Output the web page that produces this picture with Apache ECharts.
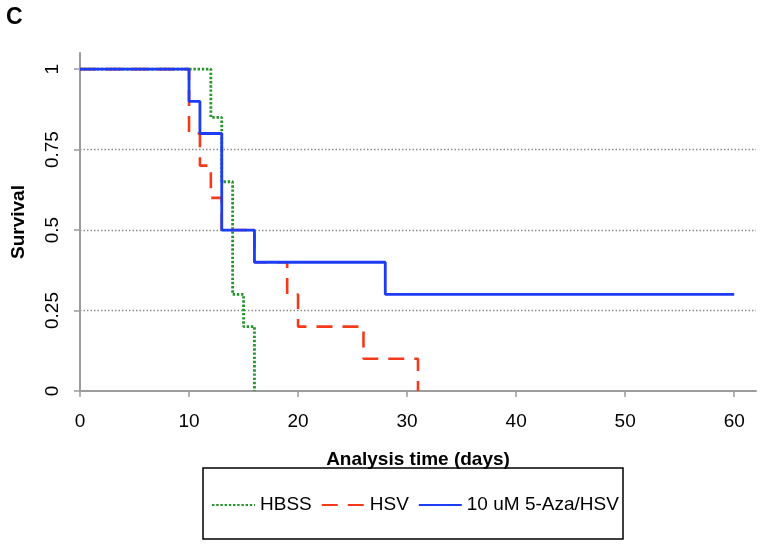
<!DOCTYPE html>
<html>
<head>
<meta charset="utf-8">
<script src="https://cdn.jsdelivr.net/npm/echarts@6/dist/echarts.min.js"></script>
<style>
  html, body { margin: 0; padding: 0; background: #fff; }
  #chart { width: 764px; height: 547px; }
</style>
</head>
<body>
<div id="chart"></div>
<script>
// ---- Data (Kaplan-Meier step points: [time, survival]) ----
const seriesNames = ['HBSS', 'HSV', '10 uM 5-Aza/HSV'];
const hbssTimes = [0, 12, 13, 14, 15, 16];
const hbssSurvival = [1, 0.85, 0.65, 0.3, 0.2, 0];
const hsvTimes = [0, 10, 11, 12, 13, 16, 19, 20, 26, 31];
const hsvSurvival = [1, 0.8, 0.7, 0.6, 0.5, 0.4, 0.3, 0.2, 0.1, 0];
const azaTimes = [0, 10, 11, 13, 16, 28, 60];
const azaSurvival = [1, 0.9, 0.8, 0.5, 0.4, 0.3, 0.3];
const xTicks = [0, 10, 20, 30, 40, 50, 60];
const yTicks = [0, 0.25, 0.5, 0.75, 1];

const pairs = (t, s) => t.map((v, i) => [v, s[i]]);

const FONT = 'Liberation Sans, Arial, Helvetica, sans-serif';
const AXIS_GREY = '#9c9c9c';

const chart = echarts.init(document.getElementById('chart'), null, { renderer: 'canvas' });

chart.setOption({
  animation: false,
  backgroundColor: '#ffffff',
  textStyle: { fontFamily: FONT, color: '#000' },
  grid: { left: 80, right: 8, top: 53, bottom: 156, containLabel: false },
  xAxis: {
    type: 'value',
    min: 0, max: 62, interval: 10,
    name: 'Analysis time (days)',
    nameLocation: 'middle',
    nameGap: 59,
    nameTextStyle: { fontFamily: FONT, fontSize: 19, fontWeight: 'bold', color: '#000' },
    axisLine: { show: true, lineStyle: { color: AXIS_GREY, width: 2 } },
    axisTick: { show: true, length: 6, lineStyle: { color: AXIS_GREY, width: 1.5 }, customValues: xTicks },
    axisLabel: { fontFamily: FONT, fontSize: 19, color: '#000', margin: 21, customValues: xTicks },
    splitLine: { show: false }
  },
  yAxis: {
    type: 'value',
    min: 0, max: 1.05, interval: 0.25,
    name: 'Survival',
    nameLocation: 'middle',
    nameGap: 52,
    nameRotate: 90,
    nameTextStyle: { fontFamily: FONT, fontSize: 19, fontWeight: 'bold', color: '#000' },
    axisLine: { show: true, lineStyle: { color: AXIS_GREY, width: 2 } },
    axisTick: { show: true, length: 6, lineStyle: { color: AXIS_GREY, width: 1.5 }, customValues: yTicks },
    axisLabel: { fontFamily: FONT, fontSize: 19, color: '#000', margin: 18, rotate: 90, customValues: yTicks },
    splitLine: {
      show: true, showMinLine: false, showMaxLine: false,
      lineStyle: { color: '#8c8c8c', width: 1.4, type: [1.5, 2] }
    }
  },
  legend: {
    data: seriesNames,
    left: 211,
    top: 495,
    padding: 0,
    itemWidth: 43,
    itemHeight: 14,
    itemGap: 9,
    itemStyle: { opacity: 0 },
    textStyle: { fontFamily: FONT, fontSize: 19, color: '#000', lineHeight: 20 }
  },
  graphic: [
    {
      type: 'rect',
      shape: { x: 203, y: 468, width: 420, height: 71 },
      style: { fill: 'none', stroke: '#000', lineWidth: 1.5 },
      silent: true, z: 100
    },
    {
      type: 'text',
      left: 6, top: 6,
      style: { text: 'C', fontFamily: FONT, fontSize: 23, fontWeight: 'bold', fill: '#000' },
      silent: true
    }
  ],
  series: [
    {
      name: seriesNames[0],
      type: 'line', step: 'end', symbol: 'none', z: 2,
      data: pairs(hbssTimes, hbssSurvival),
      lineStyle: { color: '#23952b', width: 2.8, type: [2.4, 1.8] },
      itemStyle: { color: '#23952b' }
    },
    {
      name: seriesNames[1],
      type: 'line', step: 'end', symbol: 'none', z: 3,
      data: pairs(hsvTimes, hsvSurvival),
      lineStyle: { color: '#f53a1c', width: 2.6, type: [16, 10] },
      itemStyle: { color: '#f53a1c' }
    },
    {
      name: seriesNames[2],
      type: 'line', step: 'end', symbol: 'none', z: 4,
      data: pairs(azaTimes, azaSurvival),
      lineStyle: { color: '#1c3cf5', width: 2.8 },
      itemStyle: { color: '#1c3cf5' }
    }
  ]
});
</script>
</body>
</html>
